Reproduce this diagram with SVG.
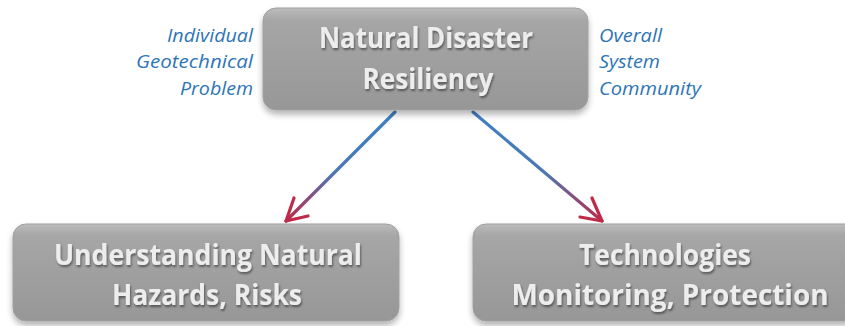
<svg xmlns="http://www.w3.org/2000/svg" width="845" height="326" viewBox="0 0 845 326">
<defs>
<linearGradient id="box" x1="0" y1="0" x2="0" y2="1">
<stop offset="0" stop-color="#bcbcbc"/>
<stop offset="0.12" stop-color="#a6a6a6"/>
<stop offset="1" stop-color="#979797"/>
</linearGradient>
<linearGradient id="al" gradientUnits="userSpaceOnUse" x1="395" y1="112" x2="285" y2="222">
<stop offset="0" stop-color="#3f80c2"/>
<stop offset="0.55" stop-color="#4a78b4"/>
<stop offset="1" stop-color="#c02848"/>
</linearGradient>
<linearGradient id="ar" gradientUnits="userSpaceOnUse" x1="473" y1="112" x2="603" y2="222">
<stop offset="0" stop-color="#3f80c2"/>
<stop offset="0.55" stop-color="#4a78b4"/>
<stop offset="1" stop-color="#c02848"/>
</linearGradient>
<filter id="sh" x="-10%" y="-10%" width="120%" height="130%">
<feGaussianBlur in="SourceAlpha" stdDeviation="3"/>
<feOffset dx="0" dy="4" result="b"/>
<feComponentTransfer><feFuncA type="linear" slope="0.3"/></feComponentTransfer>
<feMerge><feMergeNode/><feMergeNode in="SourceGraphic"/></feMerge>
</filter>
<filter id="ts" x="-5%" y="-20%" width="110%" height="150%">
<feGaussianBlur in="SourceAlpha" stdDeviation="1"/>
<feOffset dx="1" dy="2"/>
<feComponentTransfer><feFuncA type="linear" slope="0.45"/></feComponentTransfer>
<feMerge><feMergeNode/><feMergeNode in="SourceGraphic"/></feMerge>
</filter>
</defs>
<style>
.box{fill:url(#box);stroke:#a0a0a0;stroke-width:1}
.t{font-family:"Open Sans","Liberation Sans",sans-serif;font-weight:bold;fill:#ededed;text-anchor:middle;font-size:29px}
.s{font-family:"Open Sans","Liberation Sans",sans-serif;font-style:italic;fill:#2e75b6;font-size:19px}
.c{fill:none;stroke-width:3.2;stroke-linecap:round;stroke-linejoin:round}
</style>
<rect width="845" height="326" fill="#ffffff"/>
<g id="connectors">
<path class="c" stroke="url(#al)" d="M395,112 L286,221"/>
<path class="c" stroke="#bf2a48" d="M294,198 L286,221 L308,216"/>
<path class="c" stroke="url(#ar)" d="M473,112 L602,221"/>
<path class="c" stroke="#bf2a48" d="M580,217 L602,221 L592,198"/>
</g>
<g id="node-top">
<rect class="box" x="263" y="8" width="325" height="102" rx="13" filter="url(#sh)"/>
<g filter="url(#ts)">
<text class="t" x="426" y="48" textLength="214" lengthAdjust="spacingAndGlyphs">Natural Disaster</text>
<text class="t" x="428" y="89" textLength="131" lengthAdjust="spacingAndGlyphs">Resiliency</text>
</g>
</g>
<g id="label-left">
<text class="s" x="253" y="42" text-anchor="end" textLength="86" lengthAdjust="spacingAndGlyphs">Individual</text>
<text class="s" x="253" y="68" text-anchor="end" textLength="117" lengthAdjust="spacingAndGlyphs">Geotechnical</text>
<text class="s" x="253" y="95" text-anchor="end" textLength="73" lengthAdjust="spacingAndGlyphs">Problem</text>
</g>
<g id="label-right">
<text class="s" x="599" y="42" textLength="63" lengthAdjust="spacingAndGlyphs">Overall</text>
<text class="s" x="599" y="68" textLength="61" lengthAdjust="spacingAndGlyphs">System</text>
<text class="s" x="599" y="95" textLength="102" lengthAdjust="spacingAndGlyphs">Community</text>
</g>
<g id="node-left">
<rect class="box" x="13" y="224" width="386" height="97" rx="13" filter="url(#sh)"/>
<g filter="url(#ts)">
<text class="t" x="208" y="265" textLength="308" lengthAdjust="spacingAndGlyphs">Understanding Natural</text>
<text class="t" x="207" y="305" textLength="190" lengthAdjust="spacingAndGlyphs">Hazards, Risks</text>
</g>
</g>
<g id="node-right">
<rect class="box" x="473" y="224" width="385" height="97" rx="13" filter="url(#sh)"/>
<g filter="url(#ts)">
<text class="t" x="665" y="265" textLength="172" lengthAdjust="spacingAndGlyphs">Technologies</text>
<text class="t" x="670" y="305" textLength="317" lengthAdjust="spacingAndGlyphs">Monitoring, Protection</text>
</g>
</g>
</svg>
